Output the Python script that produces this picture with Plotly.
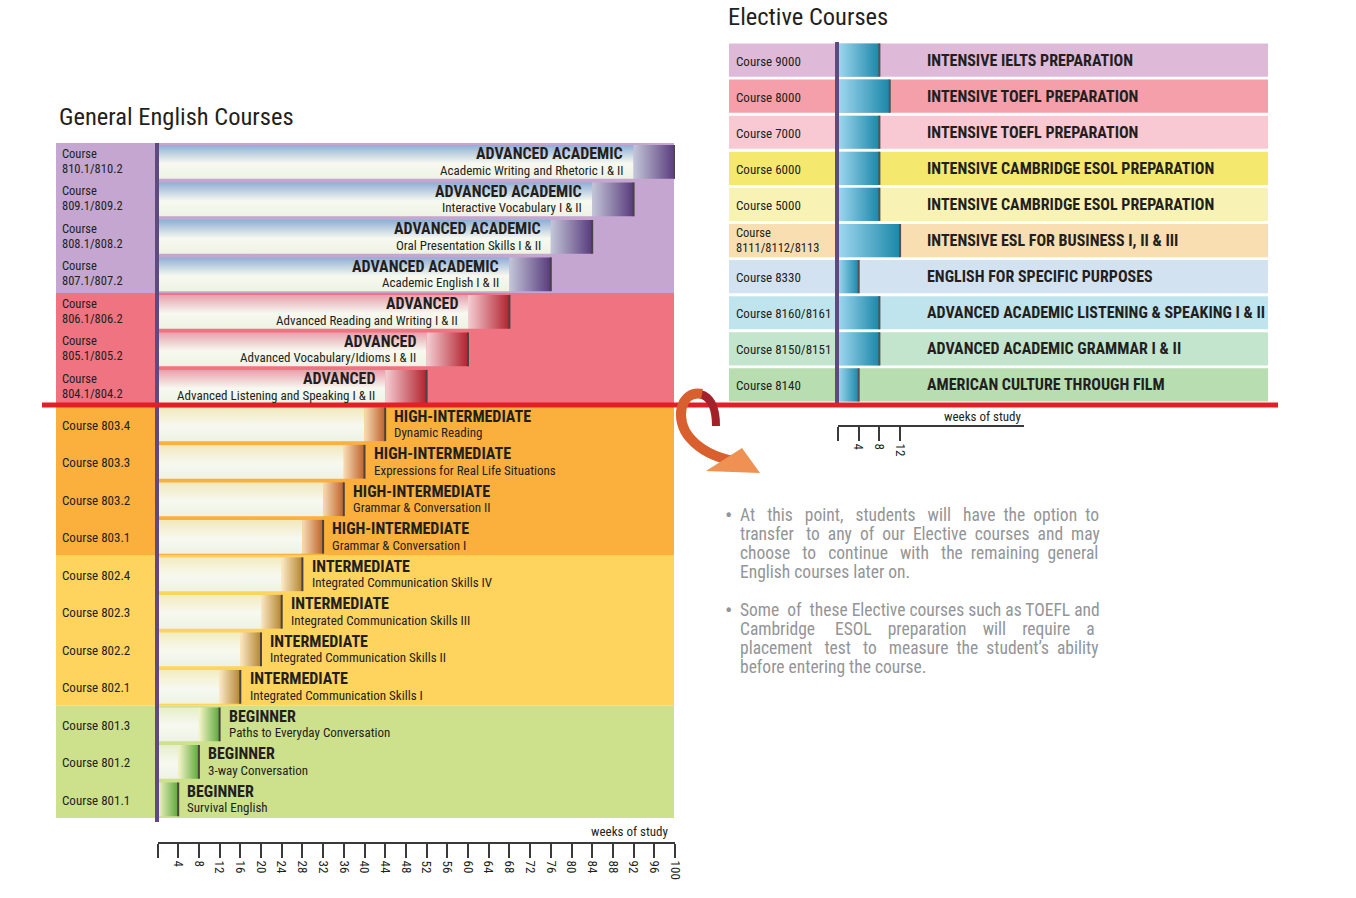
import plotly.graph_objects as go

# ---------------- DATA ----------------
general_codes = ["801.1", "801.2", "801.3",
                 "802.1", "802.2", "802.3", "802.4",
                 "803.1", "803.2", "803.3", "803.4",
                 "804.1/804.2", "805.1/805.2", "806.1/806.2",
                 "807.1/807.2", "808.1/808.2", "809.1/809.2", "810.1/810.2"]
general_levels = ["BEGINNER", "BEGINNER", "BEGINNER",
                  "INTERMEDIATE", "INTERMEDIATE", "INTERMEDIATE", "INTERMEDIATE",
                  "HIGH-INTERMEDIATE", "HIGH-INTERMEDIATE", "HIGH-INTERMEDIATE", "HIGH-INTERMEDIATE",
                  "ADVANCED", "ADVANCED", "ADVANCED",
                  "ADVANCED ACADEMIC", "ADVANCED ACADEMIC", "ADVANCED ACADEMIC", "ADVANCED ACADEMIC"]
general_names = ["Survival English", "3-way Conversation", "Paths to Everyday Conversation",
                 "Integrated Communication Skills I", "Integrated Communication Skills II",
                 "Integrated Communication Skills III", "Integrated Communication Skills IV",
                 "Grammar & Conversation I", "Grammar & Conversation II",
                 "Expressions for Real Life Situations", "Dynamic Reading",
                 "Advanced Listening and Speaking I & II", "Advanced Vocabulary/Idioms I & II",
                 "Advanced Reading and Writing I & II", "Academic English I & II",
                 "Oral Presentation Skills I & II", "Interactive Vocabulary I & II",
                 "Academic Writing and Rhetoric I & II"]
general_weeks = [4, 4, 4, 4, 4, 4, 4, 4, 4, 4, 4, 8, 8, 8, 8, 8, 8, 8]
general_ticks = [0, 4, 8, 12, 16, 20, 24, 28, 32, 36, 40, 44, 48, 52, 56, 60, 64, 68, 72, 76,
                 80, 84, 88, 92, 96, 100]

elective_codes = ["8140", "8150/8151", "8160/8161", "8330", "8111/8112/8113",
                  "5000", "6000", "7000", "8000", "9000"]
elective_names = ["AMERICAN CULTURE THROUGH FILM", "ADVANCED ACADEMIC GRAMMAR I & II",
                  "ADVANCED ACADEMIC LISTENING & SPEAKING I & II", "ENGLISH FOR SPECIFIC PURPOSES",
                  "INTENSIVE ESL FOR BUSINESS I, II & III", "INTENSIVE CAMBRIDGE ESOL PREPARATION",
                  "INTENSIVE CAMBRIDGE ESOL PREPARATION", "INTENSIVE TOEFL PREPARATION",
                  "INTENSIVE TOEFL PREPARATION", "INTENSIVE IELTS PREPARATION"]
elective_weeks = [4, 8, 8, 4, 12, 8, 8, 8, 10, 8]
elective_bands = ["#B7DDB1", "#C4E5CD", "#C0E4EE", "#D3E2F1", "#F9DEB2",
                  "#F8F3B5", "#F5E86F", "#F9C9D3", "#F59FAB", "#DEB9D8"]
elective_ticks = [0, 4, 8, 12]

notes_1 = ["At this point, students will have the option to",
           "transfer to any of our Elective courses and may",
           "choose to continue with the remaining general",
           "English courses later on."]
notes_2 = ["Some of these Elective courses such as TOEFL and",
           "Cambridge ESOL preparation will require a",
           "placement test to measure the student\u2019s ability",
           "before entering the course."]
# extra word-gap padding (in no-break spaces) that mimics the justified text block
notes_1_pad = [13, 9, 10, 0]
notes_2_pad = [2, 16, 9, 0]

# ---------------- STYLE ----------------
W, H = 1356, 898
WE = 1348  # effective horizontal pixel span seen in the rendered picture
def PX(x): return x / WE
def PY(y): return 1 - y / H

FONT = "Roboto Condensed, DejaVu Sans Condensed, sans-serif"
INK = "#231F20"
T_SIZE, S_SIZE, C_SIZE = 16, 13, 13
level_style = {
    "BEGINNER": dict(band="#CDE08C", top="#E6EECB", cap0="#F7F5C9", cap1="#5CA73A"),
    "INTERMEDIATE": dict(band="#FED35E", top="#F3ECC0", cap0="#FBE8C5", cap1="#B4842F"),
    "HIGH-INTERMEDIATE": dict(band="#FBAF3C", top="#F2E8BC", cap0="#F8DBB4", cap1="#BD6129"),
    "ADVANCED": dict(band="#EF7380", top="#E7A0AC", cap0="#F5CDD3", cap1="#B1222E"),
    "ADVANCED ACADEMIC": dict(band="#C4A6D1", top="#8FADD5", cap0="#C3C6D8", cap1="#583A7C"),
}

fig = go.Figure()
shapes, annotations = [], []

def course_label(code, x_px, y, yref):
    if len(code) > 10:
        for txt, ys in (("Course", 8.5), (code, -6.5)):
            annotations.append(dict(text=txt, x=PX(x_px), xref="paper", y=y, yref=yref, yshift=ys,
                                    xanchor="left", showarrow=False,
                                    font=dict(size=12.5, color=INK, family=FONT)))
    else:
        annotations.append(dict(text="Course " + code, x=PX(x_px), xref="paper", y=y, yref=yref,
                                yshift=-1, xanchor="left", showarrow=False,
                                font=dict(size=C_SIZE, color=INK, family=FONT)))

def justify(line, pad):
    words = line.split(" ")
    gaps = len(words) - 1
    if pad <= 0 or gaps <= 0:
        return line
    out = words[0]
    for g in range(gaps):
        n = pad // gaps + (1 if g < pad % gaps else 0)
        out += " " + "\u00a0" * n + words[g + 1]
    return out

# ---------------- GENERAL ENGLISH (left) ----------------
ends, acc = [], 0
for w in general_weeks:
    acc += w
    ends.append(acc)
starts = [e - w for e, w in zip(ends, general_weeks)]
HH = 0.45

i = 0
while i < len(general_levels):
    j = i
    while j + 1 < len(general_levels) and general_levels[j + 1] == general_levels[i]:
        j += 1
    shapes.append(dict(type="rect", xref="paper", yref="y", x0=PX(56), x1=PX(674),
                       y0=i - 0.5, y1=j + 0.5, fillcolor=level_style[general_levels[i]]["band"],
                       line=dict(width=0), layer="below"))
    i = j + 1

shadow_x, shadow_y = [], []
for i, (code, lvl, name, s, e) in enumerate(zip(general_codes, general_levels, general_names, starts, ends)):
    st = level_style[lvl]
    y0, y1 = i - HH, i + HH
    if s > 0:
        fig.add_trace(go.Scatter(
            x=[0, s, s, 0, 0], y=[y0, y0, y1, y1, y0], fill="toself", mode="lines",
            line=dict(width=0),
            fillgradient=dict(type="vertical",
                              colorscale=[[0, "#EEF2E3"], [0.45, "#F7F9F0"], [1, st["top"]]]),
            xaxis="x", yaxis="y", hoverinfo="skip", showlegend=False))
    fig.add_trace(go.Scatter(
        x=[s, e, e, s, s], y=[y0, y0, y1, y1, y0], fill="toself", mode="lines",
        line=dict(width=0),
        fillgradient=dict(type="horizontal", colorscale=[[0, st["cap0"]], [1, st["cap1"]]]),
        xaxis="x", yaxis="y", hoverinfo="skip", showlegend=False))
    shadow_x += [e, e, None]
    shadow_y += [y0, y1, None]

    course_label(code, 60, i, "y")
    if lvl.startswith("ADVANCED"):
        tx, anc = s - 1.6, "right"
    else:
        tx, anc = e + 1.4, "left"
    annotations.append(dict(text="<b>" + lvl + "</b>", x=tx, xref="x", y=i, yref="y", yshift=8,
                            xanchor=anc, showarrow=False, font=dict(size=T_SIZE, color=INK, family=FONT)))
    annotations.append(dict(text=name, x=tx, xref="x", y=i, yref="y", yshift=-8.5,
                            xanchor=anc, showarrow=False, font=dict(size=S_SIZE, color=INK, family=FONT)))

fig.add_trace(go.Scatter(x=shadow_x, y=shadow_y, mode="lines", line=dict(color="#4A4343", width=2),
                         xaxis="x", yaxis="y", hoverinfo="skip", showlegend=False))

# ---------------- ELECTIVES (right) ----------------
EH = 0.46
eshadow_x, eshadow_y = [], []
for i, (code, name, w, band) in enumerate(zip(elective_codes, elective_names, elective_weeks, elective_bands)):
    shapes.append(dict(type="rect", xref="paper", yref="y2", x0=PX(729), x1=PX(1268),
                       y0=i - EH, y1=i + EH, fillcolor=band, line=dict(width=0), layer="below"))
    fig.add_trace(go.Scatter(
        x=[0, w, w, 0, 0], y=[i - EH, i - EH, i + EH, i + EH, i - EH], fill="toself", mode="lines",
        line=dict(width=0),
        fillgradient=dict(type="horizontal", colorscale=[[0, "#A0D8F1"], [1, "#1A87A8"]]),
        xaxis="x2", yaxis="y2", hoverinfo="skip", showlegend=False))
    eshadow_x += [w, w, None]
    eshadow_y += [i - EH, i + EH, None]
    course_label(code, 734, i, "y2")
    annotations.append(dict(text="<b>" + name + "</b>", x=PX(925), xref="paper", y=i, yref="y2",
                            xanchor="left", showarrow=False, font=dict(size=T_SIZE, color=INK, family=FONT)))

fig.add_trace(go.Scatter(x=eshadow_x, y=eshadow_y, mode="lines", line=dict(color="#5A5050", width=2),
                         xaxis="x2", yaxis="y2", hoverinfo="skip", showlegend=False))

# ---------------- decorations ----------------
PURPLE = "#5E4A7E"
shapes.append(dict(type="line", xref="paper", yref="paper", x0=PX(157), x1=PX(157),
                   y0=PY(143), y1=PY(822), line=dict(color=PURPLE, width=4), layer="above"))
shapes.append(dict(type="line", xref="paper", yref="paper", x0=PX(837), x1=PX(837),
                   y0=PY(42), y1=PY(403), line=dict(color=PURPLE, width=4), layer="above"))
shapes.append(dict(type="line", xref="paper", yref="paper", x0=PX(42), x1=PX(1278),
                   y0=PY(405), y1=PY(405), line=dict(color="#E41E26", width=5), layer="above"))

def path(cmds):
    out = []
    for c in cmds:
        if isinstance(c, str):
            out.append(c)
        else:
            out.append("%.5f,%.5f" % (PX(c[0]), PY(c[1])))
    return " ".join(out)

shapes.append(dict(type="path", xref="paper", yref="paper", layer="above",
                   path=path(["M", (716, 426), "Q", (716, 398), (700, 394)]),
                   line=dict(color="#A3222A", width=8)))
shapes.append(dict(type="path", xref="paper", yref="paper", layer="above",
                   path=path(["M", (702, 394), "C", (680, 390), (674, 420), (690, 438),
                              "C", (702, 452), (718, 458), (734, 461)]),
                   line=dict(color="#D9602E", width=10)))
shapes.append(dict(type="path", xref="paper", yref="paper", layer="above",
                   path=path(["M", (742, 448), "L", (706, 471), "L", (760, 473), "Z"]),
                   fillcolor="#EE9152", line=dict(width=0)))

annotations.append(dict(text="General English Courses", x=PX(57), y=PY(116), xref="paper", yref="paper",
                        xanchor="left", yanchor="middle", showarrow=False,
                        font=dict(size=24.5, color=INK, family=FONT)))
annotations.append(dict(text="Elective Courses", x=PX(726), y=PY(17), xref="paper", yref="paper",
                        xanchor="left", yanchor="middle", showarrow=False,
                        font=dict(size=24.5, color=INK, family=FONT)))
annotations.append(dict(text="weeks of study", x=PX(671), y=PY(831), xref="paper", yref="paper",
                        xanchor="right", yanchor="middle", showarrow=False,
                        font=dict(size=13, color=INK, family=FONT)))
annotations.append(dict(text="weeks of study", x=PX(1024), y=PY(416), xref="paper", yref="paper",
                        xanchor="right", yanchor="middle", showarrow=False,
                        font=dict(size=13, color=INK, family=FONT)))

GREY = "#939598"
for lines, pads, y_first in ((notes_1, notes_1_pad, 515), (notes_2, notes_2_pad, 610)):
    annotations.append(dict(text="\u2022", x=PX(728), y=PY(y_first), xref="paper", yref="paper",
                            xanchor="center", yanchor="middle", showarrow=False,
                            font=dict(size=22, color=GREY, family=FONT)))
    for k, (ln, pd) in enumerate(zip(lines, pads)):
        annotations.append(dict(text=justify(ln, pd), x=PX(738), y=PY(y_first + 19 * k),
                                xref="paper", yref="paper",
                                xanchor="left", yanchor="middle", showarrow=False,
                                font=dict(size=17.5, color=GREY, family=FONT)))

axis_common = dict(ticks="outside", ticklen=14, tickwidth=2, tickcolor="#3A3A3A", showline=True,
                   linecolor="#3A3A3A", linewidth=2, showgrid=False, zeroline=False, tickangle=90,
                   tickfont=dict(size=13, color=INK, family=FONT), anchor="free", fixedrange=True)

fig.update_layout(
    width=W, height=H, autosize=False, margin=dict(l=0, r=0, t=0, b=0),
    paper_bgcolor="white", plot_bgcolor="rgba(0,0,0,0)", showlegend=False,
    xaxis=dict(domain=[PX(157.5), PX(675)], range=[0, 100], position=PY(843),
               tickvals=general_ticks, ticktext=[""] + [str(v) for v in general_ticks[1:]], **axis_common),
    yaxis=dict(domain=[PY(818), PY(143)], range=[-0.5, len(general_codes) - 0.5], visible=False,
               fixedrange=True),
    xaxis2=dict(domain=[PX(838), PX(1024)], range=[0, (1024 - 838) / 5.175], position=PY(426),
                tickvals=elective_ticks, ticktext=[""] + [str(v) for v in elective_ticks[1:]], **axis_common),
    yaxis2=dict(domain=[PY(403), PY(42)], range=[-0.5, len(elective_codes) - 0.5], visible=False,
                anchor="x2", fixedrange=True),
    shapes=shapes, annotations=annotations,
)

post = ("document.documentElement.style.overflow='hidden';"
        "document.body.style.margin='0';document.body.style.overflow='hidden';")
fig.write_html("out.html", post_script=post,
               config={"displayModeBar": False, "responsive": False})
